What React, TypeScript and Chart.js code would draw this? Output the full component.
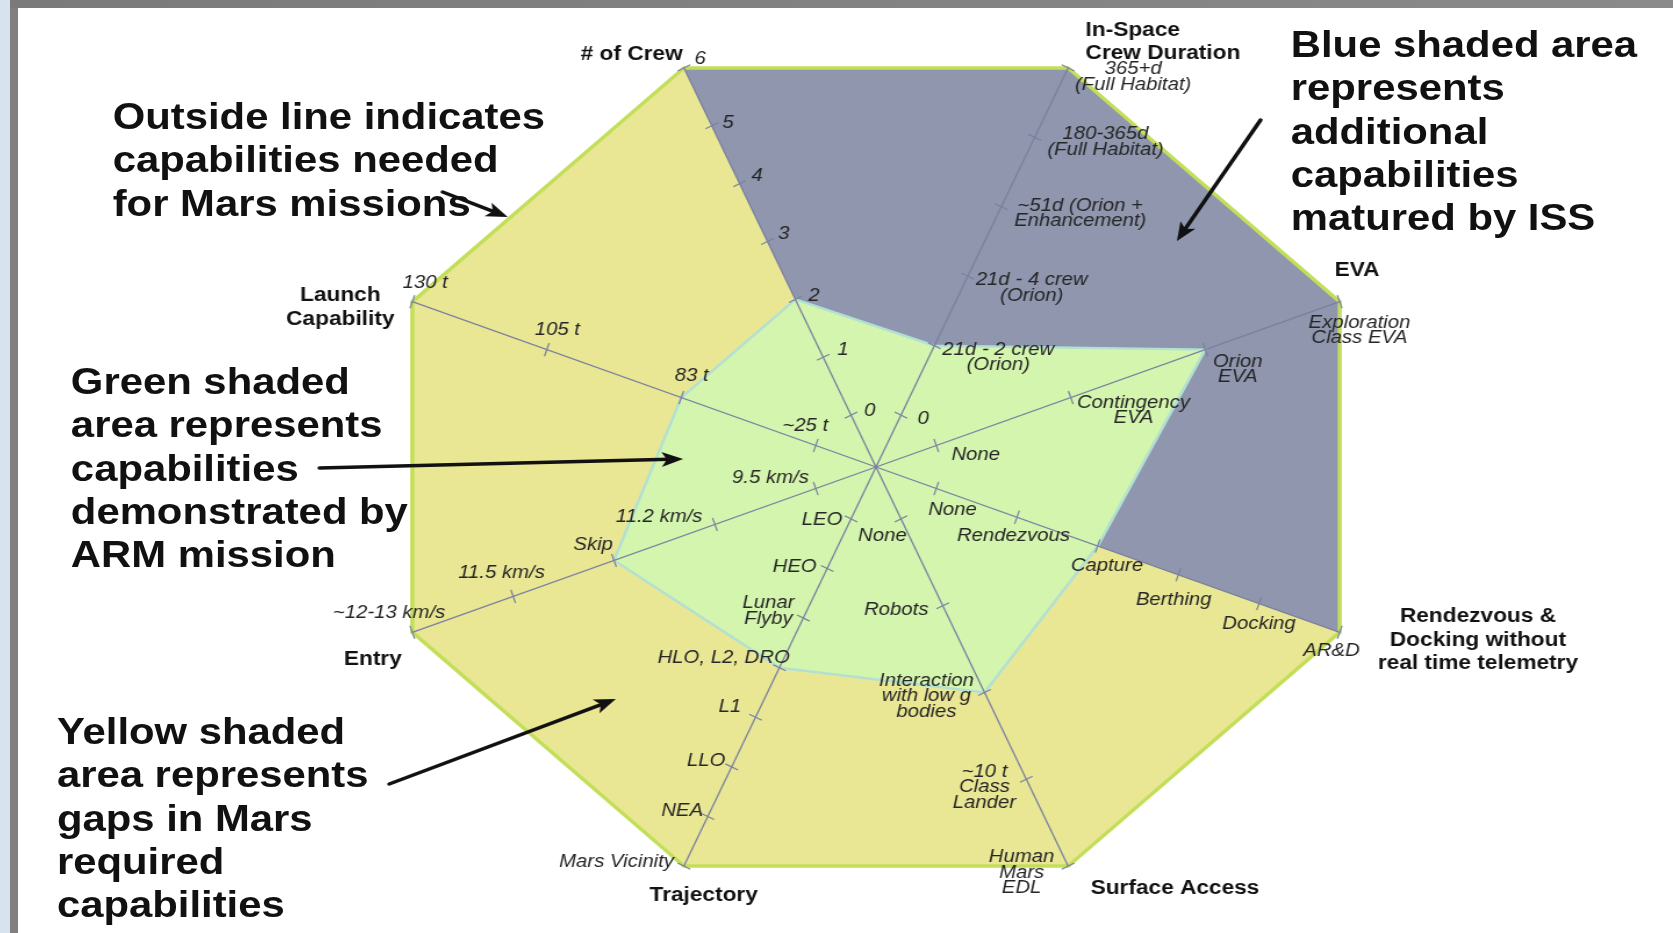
import React, { useEffect, useRef } from 'react';
import { Chart, registerables } from 'chart.js';

Chart.register(...registerables);

// ---------- DATA ----------
const AXES = [
  '# of Crew',
  'In-Space\nCrew Duration',
  'EVA',
  'Rendezvous &\nDocking without\nreal time telemetry',
  'Surface Access',
  'Trajectory',
  'Entry',
  'Launch\nCapability',
];

const CREW_TICKS = ['0', '1', '2', '3', '4', '5', '6'];
const DURATION_TICKS = ['0', '21d - 2 crew\n(Orion)', '21d - 4 crew\n(Orion)', '~51d (Orion +\nEnhancement)', '180-365d\n(Full Habitat)', '365+d\n(Full Habitat)'];
const EVA_TICKS = ['None', 'Contingency\nEVA', 'Orion\nEVA', 'Exploration\nClass EVA'];
const RND_TICKS = ['None', 'Rendezvous', 'Capture', 'Berthing', 'Docking', 'AR&D'];
const SURFACE_TICKS = ['None', 'Robots', 'Interaction\nwith low g\nbodies', '~10 t\nClass\nLander', 'Human\nMars\nEDL'];
const TRAJECTORY_TICKS = ['LEO', 'HEO', 'Lunar\nFlyby', 'HLO, L2, DRO', 'L1', 'LLO', 'NEA', 'Mars Vicinity'];
const ENTRY_TICKS = ['9.5 km/s', '11.2 km/s', 'Skip', '11.5 km/s', '~12-13 km/s'];
const LAUNCH_TICKS = ['~25 t', '83 t', '105 t', '130 t'];

const AXIS_TICKS = [CREW_TICKS, DURATION_TICKS, EVA_TICKS, RND_TICKS, SURFACE_TICKS, TRAJECTORY_TICKS, ENTRY_TICKS, LAUNCH_TICKS];

// capability level reached on each axis (index into that axis' tick list; null = hub)
const MARS_LEVELS = [6, 5, 3, 5, 4, 7, 4, 3];
const ISS_LEVELS = [6, 5, 3, 5, null, null, null, null];
const ARM_LEVELS = [2, 1, 2, 2, 2, 3, 2, 1];

// ---------- SCALE MAPPING (level -> radial 0..100) ----------
const FIRST_TICK = 13;
function levelToRadial(axis: number, level: number | null): number {
  if (level === null) return 0;
  const n = AXIS_TICKS[axis].length;
  return FIRST_TICK + ((100 - FIRST_TICK) * level) / (n - 1);
}

// ---------- STYLE / LAYOUT ----------
const W = 1673;
const H = 933;
const IW = 1440; // internal width, stretched horizontally to W
const SX = W / IW;

const TICK_LABEL_OFFSETS: number[][][] = [
  [[16, -4], [17, -7], [16, -3], [14, -7], [15, -8], [14, -3], [14, -9]],
  [[19, 4], [55, 12], [55, 12], [68, 7], [61, 5], [56, 9]],
  [[34, 10], [54, 13], [28, 20], [17, 29]],
  [[14, 22], [-3, 19], [8, 20], [-4, 25], [0, 21], [-7, 19]],
  [[-16, 17], [-40, 4], [-50, 4], [-36, 8], [-40, 7]],
  [[-25, 1], [-28, -1], [-30, -7], [-48, -10], [-22, -10], [-22, -6], [-22, -5], [-58, -4]],
  [[-39, -10], [-48, -7], [-18, -15], [-10, -23], [-20, -19]],
  [[-9, -19], [9, -21], [9, -19], [11, -19]],
];

const TITLE_STYLE: [number, number, CanvasTextAlign][] = [
  [-45, -13, 'center'],
  [15, -26, 'left'],
  [15, -31, 'center'],
  [119, 8, 'center'],
  [92, 23, 'center'],
  [17, 30, 'center'],
  [-34, 27, 'center'],
  [-62, 6, 'center'],
];

const ARROWS = [
  [381, 192, 437, 217],
  [275, 468, 588, 459],
  [335, 784, 530, 699],
  [1085, 120, 1013, 241],
];

const NOTES = [
  { text: 'Outside line indicates\ncapabilities needed\nfor Mars missions', left: 97, top: 95 },
  { text: 'Green shaded\narea represents\ncapabilities\ndemonstrated by\nARM mission', left: 61, top: 360 },
  { text: 'Yellow shaded\narea represents\ngaps in Mars\nrequired\ncapabilities', left: 49, top: 710 },
  { text: 'Blue shaded area\nrepresents\nadditional\ncapabilities\nmatured by ISS', left: 1111, top: 23 },
];

const FONT = '"Liberation Sans", Arial, Helvetica, sans-serif';

function drawBlock(ctx: CanvasRenderingContext2D, text: string, x: number, y: number, lh: number) {
  const lines = text.split('\n');
  const y0 = y - ((lines.length - 1) * lh) / 2;
  lines.forEach((ln, k) => ctx.fillText(ln, x, y0 + k * lh));
}

function drawArrow(ctx: CanvasRenderingContext2D, x1: number, y1: number, x2: number, y2: number) {
  const a = Math.atan2(y2 - y1, x2 - x1);
  const head = 20;
  ctx.save();
  ctx.strokeStyle = '#111';
  ctx.fillStyle = '#111';
  ctx.lineWidth = 3.5;
  ctx.lineCap = 'round';
  ctx.beginPath();
  ctx.moveTo(x1, y1);
  ctx.lineTo(x2 - Math.cos(a) * head * 0.6, y2 - Math.sin(a) * head * 0.6);
  ctx.stroke();
  ctx.beginPath();
  ctx.moveTo(x2, y2);
  ctx.lineTo(x2 - head * Math.cos(a - 0.38), y2 - head * Math.sin(a - 0.38));
  ctx.lineTo(x2 - head * 0.7 * Math.cos(a), y2 - head * 0.7 * Math.sin(a));
  ctx.lineTo(x2 - head * Math.cos(a + 0.38), y2 - head * Math.sin(a + 0.38));
  ctx.closePath();
  ctx.fill();
  ctx.restore();
}

const overlayPlugin = {
  id: 'capabilityOverlay',
  afterDraw(chart: any) {
    const ctx: CanvasRenderingContext2D = chart.ctx;
    const scale = chart.scales.r;
    ctx.save();
    // tick marks
    ctx.strokeStyle = '#7a81a0';
    ctx.lineWidth = 1.2;
    AXIS_TICKS.forEach((ticks, i) => {
      const ang = scale.getIndexAngle(i) - Math.PI / 2;
      const ux = Math.cos(ang);
      const uy = Math.sin(ang);
      const n = Math.sqrt(uy * uy + ux * ux * SX * SX);
      const px = (-uy / n) / SX;
      const py = (ux * SX) / n;
      const h = 7;
      ticks.forEach((_, k) => {
        const p = scale.getPointPositionForValue(i, levelToRadial(i, k));
        ctx.beginPath();
        ctx.moveTo(p.x - px * h, p.y - py * h);
        ctx.lineTo(p.x + px * h, p.y + py * h);
        ctx.stroke();
      });
    });
    // tick labels
    ctx.fillStyle = '#262626';
    ctx.font = `italic 17.5px ${FONT}`;
    ctx.textAlign = 'center';
    ctx.textBaseline = 'middle';
    AXIS_TICKS.forEach((ticks, i) => {
      ticks.forEach((t, k) => {
        const p = scale.getPointPositionForValue(i, levelToRadial(i, k));
        const [dx, dy] = TICK_LABEL_OFFSETS[i][k];
        drawBlock(ctx, t, p.x + dx, p.y + dy, 15.5);
      });
    });
    // axis titles
    ctx.fillStyle = '#111';
    ctx.font = `bold 19.5px ${FONT}`;
    AXES.forEach((name, i) => {
      const p = scale.getPointPositionForValue(i, 100);
      const [dx, dy, align] = TITLE_STYLE[i];
      ctx.textAlign = align;
      drawBlock(ctx, name, p.x + dx, p.y + dy, 23.5);
    });
    // annotation arrows
    ARROWS.forEach(([x1, y1, x2, y2]) => drawArrow(ctx, x1, y1, x2, y2));
    ctx.restore();
  },
};

export default function App() {
  const canvasRef = useRef<HTMLCanvasElement | null>(null);

  useEffect(() => {
    const canvas = canvasRef.current;
    if (!canvas) return;
    const chart = new Chart(canvas, {
      type: 'radar',
      data: {
        labels: AXES,
        datasets: [
          {
            label: 'ARM mission',
            data: ARM_LEVELS.map((l, i) => levelToRadial(i, l)),
            backgroundColor: '#d4f5ae',
            borderColor: '#b2e1d3',
            borderWidth: 2.5,
            fill: true,
            pointRadius: 0,
          },
          {
            label: 'ISS',
            data: ISS_LEVELS.map((l, i) => levelToRadial(i, l)),
            backgroundColor: '#8f96ad',
            borderWidth: 0,
            fill: true,
            pointRadius: 0,
          },
          {
            label: 'Mars missions',
            data: MARS_LEVELS.map((l, i) => levelToRadial(i, l)),
            backgroundColor: '#eae794',
            borderColor: '#c3df5a',
            borderWidth: 3.5,
            fill: true,
            pointRadius: 0,
          },
        ],
      },
      options: {
        responsive: false,
        animation: false,
        devicePixelRatio: 1,
        layout: { padding: { left: 322, right: 254, top: 35, bottom: 34 } },
        elements: { line: { tension: 0 } },
        plugins: {
          legend: { display: false },
          tooltip: { enabled: false },
          filler: { drawTime: 'beforeDatasetsDraw' },
        } as any,
        scales: {
          r: {
            min: 0,
            max: 100,
            startAngle: -22.5,
            ticks: { display: false, z: 1 },
            grid: { display: false, z: 1 },
            angleLines: { display: true, color: '#7a81a0', lineWidth: 1.3 },
            pointLabels: { display: false },
          } as any,
        },
      },
      plugins: [overlayPlugin],
    });
    return () => chart.destroy();
  }, []);

  return (
    <div style={{ position: 'fixed', left: 0, top: 0, width: W, height: H, overflow: 'hidden', background: '#ffffff' }}>
      <div
        style={{
          position: 'absolute',
          left: 0,
          top: 0,
          width: IW,
          height: H,
          transform: `scaleX(${SX})`,
          transformOrigin: '0 0',
        }}
      >
        <canvas ref={canvasRef} width={IW} height={H} style={{ width: IW, height: H, display: 'block' }} />
        {NOTES.map((n, i) => (
          <div
            key={i}
            style={{
              position: 'absolute',
              left: n.left,
              top: n.top,
              fontFamily: FONT,
              fontWeight: 'bold',
              fontSize: 36,
              lineHeight: '43.3px',
              color: '#111',
              whiteSpace: 'pre',
            }}
          >
            {n.text}
          </div>
        ))}
      </div>
      <div style={{ position: 'absolute', left: 0, top: 0, width: 10, height: H, background: '#d7e3ee' }} />
      <div style={{ position: 'absolute', left: 10, top: 0, width: 8, height: H, background: '#7f7f7f' }} />
      <div style={{ position: 'absolute', left: 10, top: 0, width: W - 10, height: 8, background: 'linear-gradient(to right, #7a7a7a, #8a8a8a)' }} />
    </div>
  );
}
